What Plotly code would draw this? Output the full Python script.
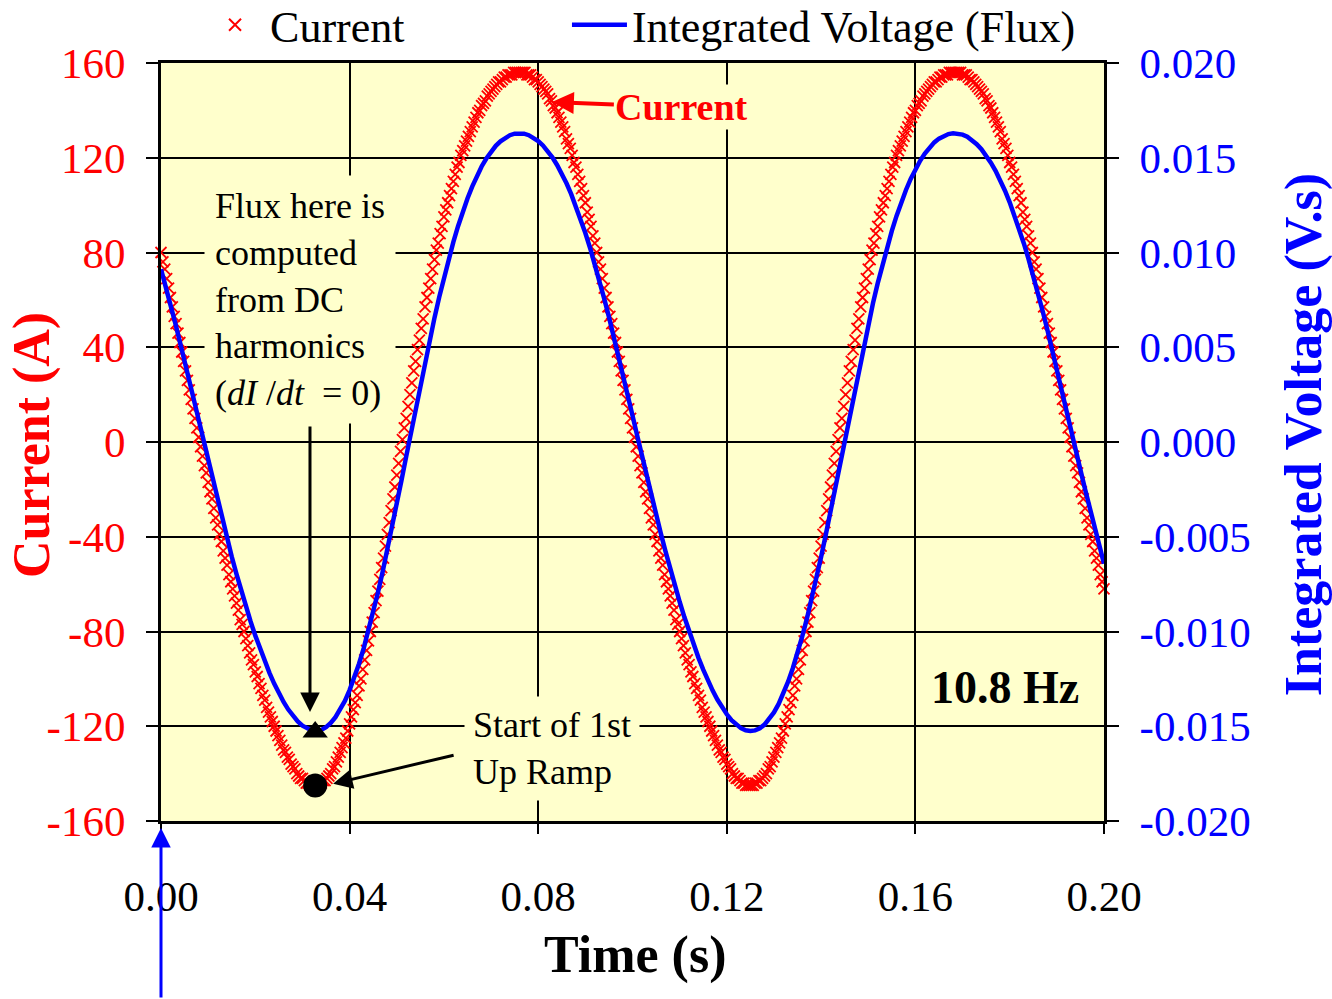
import numpy as np
import plotly.graph_objects as go

# ---- data -----------------------------------------------------------------
# Coil current (A), sampled every 0.4 ms (2500 Hz) from t = 0 to 0.2 s
current_a = [
    80, 76, 73, 69, 65, 61, 57, 53, 50, 46, 42, 38, 34, 30, 26, 22, 18, 14, 10, 6, 2, -2, -6, -10, -13,
    -17, -21, -24, -28, -32, -35, -39, -42, -46, -49, -52, -56, -59, -62, -65, -68, -71, -75, -77, -80, -83, -86, -89, -92, -94,
    -97, -99, -102, -104, -107, -109, -112, -114, -116, -118, -120, -122, -124, -126, -128, -130, -131, -133, -134, -136, -137, -138, -140, -141, -142,
    -142, -143, -144, -144, -145, -145, -145, -145, -145, -144, -144, -143, -143, -142, -141, -140, -138, -137, -135, -133, -131, -129, -127, -125, -122,
    -119, -116, -113, -110, -107, -103, -100, -96, -92, -88, -84, -80, -76, -72, -67, -63, -58, -53, -49, -44, -39, -34, -29, -24, -19,
    -14, -9, -4, 1, 6, 10, 15, 20, 25, 30, 34, 39, 43, 48, 52, 57, 61, 65, 69, 73, 77, 81, 84, 88, 91,
    95, 98, 101, 104, 107, 110, 113, 116, 118, 121, 123, 125, 127, 129, 131, 133, 135, 137, 139, 140, 142, 143, 144, 146, 147,
    148, 149, 150, 151, 152, 152, 153, 154, 154, 155, 155, 155, 156, 156, 156, 156, 156, 156, 156, 155, 155, 155, 154, 153, 153,
    152, 151, 150, 149, 148, 147, 145, 144, 142, 141, 139, 137, 135, 133, 131, 128, 126, 124, 121, 118, 116, 113, 110, 107, 104,
    101, 97, 94, 91, 87, 84,
    80, 76, 73, 69, 65, 61, 57, 53, 50, 46, 42, 38, 34, 30, 26, 22, 18, 14, 10, 6, 2, -2, -6, -10, -13,
    -17, -21, -24, -28, -32, -35, -39, -42, -46, -49, -52, -56, -59, -62, -65, -68, -71, -75, -77, -80, -83, -86, -89, -92, -94,
    -97, -99, -102, -104, -107, -109, -112, -114, -116, -118, -120, -122, -124, -126, -128, -130, -131, -133, -134, -136, -137, -138, -140, -141, -142,
    -142, -143, -144, -144, -145, -145, -145, -145, -145, -144, -144, -143, -143, -142, -141, -140, -138, -137, -135, -133, -131, -129, -127, -125, -122,
    -119, -116, -113, -110, -107, -103, -100, -96, -92, -88, -84, -80, -76, -72, -67, -63, -58, -53, -49, -44, -39, -34, -29, -24, -19,
    -14, -9, -4, 1, 6, 10, 15, 20, 25, 30, 34, 39, 43, 48, 52, 57, 61, 65, 69, 73, 77, 81, 84, 88, 91,
    95, 98, 101, 104, 107, 110, 113, 116, 118, 121, 123, 125, 127, 129, 131, 133, 135, 137, 139, 140, 142, 143, 144, 146, 147,
    148, 149, 150, 151, 152, 152, 153, 154, 154, 155, 155, 155, 156, 156, 156, 156, 156, 156, 156, 155, 155, 155, 154, 153, 153,
    152, 151, 150, 149, 148, 147, 145, 144, 142, 141, 139, 137, 135, 133, 131, 128, 126, 124, 121, 118, 116, 113, 110, 107, 104,
    101, 97, 94, 91, 87, 84,
    80, 76, 73, 69, 65, 61, 57, 53, 50, 46, 42, 38, 34, 30, 26, 22, 18, 14, 10, 6, 2, -2, -6, -10, -13,
    -17, -21, -24, -28, -32, -35, -39, -42, -46, -49, -52, -56, -59, -62,
]
CURRENT_RATE_HZ = 2500

# Integrated coil voltage (V.s), sampled every 1 ms from t = 0 to 0.2 s
flux_vs = [
    0.00912, 0.00822, 0.00728, 0.00630, 0.00529, 0.00426, 0.00321, 0.00215, 0.00108, 0.00001,
    -0.00105, -0.00209, -0.00312, -0.00413, -0.00510, -0.00605, -0.00696, -0.00784, -0.00867, -0.00947,
    -0.01022, -0.01092, -0.01158, -0.01218, -0.01275, -0.01326, -0.01372, -0.01412, -0.01446, -0.01475,
    -0.01497, -0.01513, -0.01522, -0.01524, -0.01519, -0.01505, -0.01483, -0.01452, -0.01413, -0.01366,
    -0.01309, -0.01244, -0.01170, -0.01088, -0.00997, -0.00900, -0.00796, -0.00686, -0.00571, -0.00451,
    -0.00329, -0.00203, -0.00077, 0.00050, 0.00177, 0.00301, 0.00423, 0.00541, 0.00655, 0.00764,
    0.00867, 0.00964, 0.01055, 0.01139, 0.01216, 0.01285, 0.01348, 0.01404, 0.01454, 0.01496,
    0.01533, 0.01563, 0.01587, 0.01606, 0.01619, 0.01627, 0.01629, 0.01627, 0.01619, 0.01606,
    0.01588, 0.01565, 0.01536, 0.01502, 0.01462, 0.01416, 0.01365, 0.01308, 0.01245, 0.01177,
    0.01103, 0.01024, 0.00939, 0.00850, 0.00757, 0.00660, 0.00560, 0.00458, 0.00353, 0.00247,
    0.00140, 0.00033, -0.00073, -0.00178, -0.00282, -0.00383, -0.00482, -0.00577, -0.00670, -0.00758,
    -0.00843, -0.00924, -0.01000, -0.01072, -0.01139, -0.01201, -0.01259, -0.01312, -0.01359, -0.01401,
    -0.01437, -0.01468, -0.01492, -0.01510, -0.01521, -0.01525, -0.01522, -0.01511, -0.01491, -0.01463,
    -0.01427, -0.01382, -0.01328, -0.01265, -0.01194, -0.01114, -0.01026, -0.00931, -0.00829, -0.00720,
    -0.00607, -0.00488, -0.00366, -0.00241, -0.00115, 0.00012, 0.00139, 0.00264, 0.00387, 0.00506,
    0.00621, 0.00732, 0.00837, 0.00936, 0.01028, 0.01114, 0.01193, 0.01265, 0.01330, 0.01388,
    0.01440, 0.01484, 0.01522, 0.01555, 0.01581, 0.01601, 0.01616, 0.01625, 0.01629, 0.01628,
    0.01622, 0.01611, 0.01594, 0.01572, 0.01545, 0.01513, 0.01474, 0.01431, 0.01381, 0.01326,
    0.01265, 0.01198, 0.01126, 0.01048, 0.00965, 0.00877, 0.00786, 0.00690, 0.00591, 0.00489,
    0.00385, 0.00279, 0.00172, 0.00065, -0.00041, -0.00147, -0.00251, -0.00353, -0.00452, -0.00549,
    -0.00642,
]
FLUX_RATE_HZ = 1000

# Start of the first up ramp (current minimum) and the flux at that instant
ramp_start_t = 0.0327
ramp_start_current = -145
ramp_start_flux = -0.0153

time_ticks = [0.00, 0.04, 0.08, 0.12, 0.16, 0.20]
time_labels = ["0.00", "0.04", "0.08", "0.12", "0.16", "0.20"]
current_ticks = [-160, -120, -80, -40, 0, 40, 80, 120, 160]
current_labels = ["-160", "-120", "-80", "-40", "0", "40", "80", "120", "160"]
flux_ticks = [-0.020, -0.015, -0.010, -0.005, 0.0, 0.005, 0.010, 0.015, 0.020]
flux_labels = ["-0.020", "-0.015", "-0.010", "-0.005", "0.000", "0.005", "0.010", "0.015", "0.020"]

# ---- figure ---------------------------------------------------------------
SERIF = "Liberation Serif"
RED = "#FF0000"
BLUE = "#0000FF"
PANEL = "#FFFFCC"
TICK_SIZE = 43
TITLE_SIZE = 52

t_current = np.arange(len(current_a)) / CURRENT_RATE_HZ
t_flux = np.arange(len(flux_vs)) / FLUX_RATE_HZ

fig = go.Figure()
fig.add_trace(go.Scatter(
    x=t_current, y=current_a, mode="markers", name="Current", legend="legend",
    marker=dict(symbol="x-thin", size=11, color=RED, line=dict(width=1.8, color=RED)),
    cliponaxis=False,
))
fig.add_trace(go.Scatter(
    x=[ramp_start_t], y=[ramp_start_current], mode="markers", showlegend=False,
    marker=dict(symbol="circle", size=24, color="black"),
))
fig.add_trace(go.Scatter(
    x=t_flux, y=flux_vs, mode="lines", name="Integrated Voltage (Flux)", legend="legend2",
    line=dict(color=BLUE, width=4.5), yaxis="y2", cliponaxis=False,
))
fig.add_trace(go.Scatter(
    x=[ramp_start_t], y=[ramp_start_flux], mode="markers", showlegend=False,
    marker=dict(symbol="triangle-up", size=22, color="black"), yaxis="y2",
))

axis_common = dict(
    showline=True, linecolor="black", linewidth=3, zeroline=False,
    ticks="outside", tickcolor="black", tickwidth=2,
)
legend_common = dict(
    orientation="h", xanchor="left", y=1.05, yanchor="middle",
    font=dict(family=SERIF, size=44, color="black"), bgcolor="rgba(0,0,0,0)",
)

fig.update_layout(
    width=1332, height=999,
    margin=dict(l=161, r=228, t=63, b=178, autoexpand=False),
    paper_bgcolor="white", plot_bgcolor=PANEL,
    font=dict(family=SERIF, color="black"),
    xaxis=dict(
        range=[0, 0.2], tickvals=time_ticks, ticktext=time_labels,
        ticklen=10, mirror=True, showgrid=True, gridcolor="black", gridwidth=2,
        tickfont=dict(family=SERIF, size=TICK_SIZE, color="black"), ticklabelstandoff=25,
        **axis_common,
    ),
    yaxis=dict(
        range=[-160, 160], tickvals=current_ticks, ticktext=current_labels,
        ticklen=12, showgrid=True, gridcolor="black", gridwidth=2,
        tickfont=dict(family=SERIF, size=TICK_SIZE, color=RED), ticklabelstandoff=12,
        **axis_common,
    ),
    yaxis2=dict(
        range=[-0.02, 0.02], overlaying="y", side="right",
        tickvals=flux_ticks, ticktext=flux_labels, ticklen=12, showgrid=False,
        tickfont=dict(family=SERIF, size=TICK_SIZE, color=BLUE), ticklabelstandoff=12,
        **axis_common,
    ),
    legend=dict(x=0.0414, itemwidth=60, itemsizing="constant", **legend_common),
    legend2=dict(x=0.4305, itemwidth=55, **legend_common),
    showlegend=True,
)

annotations = [
    # axis titles
    dict(text="<b>Current (A)</b>", xref="paper", yref="paper", x=-0.1368, y=0.496,
         xanchor="center", yanchor="middle", textangle=-90, showarrow=False,
         font=dict(family=SERIF, size=TITLE_SIZE, color=RED)),
    dict(text="<b>Time (s)</b>", xref="paper", yref="paper", x=0.5027, y=-0.1768,
         xanchor="center", yanchor="middle", showarrow=False,
         font=dict(family=SERIF, size=TITLE_SIZE, color="black")),
    dict(text="<b>Integrated Voltage (V.s)</b>", xref="paper", yref="paper", x=1.2121, y=0.509,
         xanchor="center", yanchor="middle", textangle=-90, showarrow=False,
         font=dict(family=SERIF, size=TITLE_SIZE, color=BLUE)),
    # explanatory notes
    dict(text="Flux here is<br>computed<br>from DC<br>harmonics<br>(<i>dI</i> /<i>dt</i>  = 0)",
         xref="x", yref="y", x=0.0091, y=112.7, xanchor="left", yanchor="top", align="left",
         showarrow=False, bgcolor=PANEL, borderpad=10,
         font=dict(family=SERIF, size=36, color="black")),
    dict(text="", xref="x", yref="y", x=0.0316, y=-114, ax=0, ay=-287,
         showarrow=True, arrowhead=2, arrowsize=1.3, arrowwidth=3, arrowcolor="black"),
    dict(text="Start of 1st<br>Up Ramp", xref="x", yref="y", x=0.0643, y=-129.6,
         xanchor="left", yanchor="middle", align="left", showarrow=False,
         bgcolor=PANEL, borderpad=8, font=dict(family=SERIF, size=36, color="black")),
    dict(text="", xref="x", yref="y", x=0.0365, y=-144.3, ax=122, ay=-29,
         showarrow=True, arrowhead=2, arrowsize=1.3, arrowwidth=3, arrowcolor="black"),
    dict(text="<b>Current</b>", xref="x", yref="y", x=0.0829, y=143.5, ax=130, ay=5,
         showarrow=True, arrowhead=2, arrowsize=1.1, arrowwidth=4, arrowcolor=RED,
         bgcolor=PANEL, font=dict(family=SERIF, size=38, color=RED)),
    dict(text="<b>10.8 Hz</b>", xref="x", yref="y", x=0.179, y=-103.8,
         xanchor="center", yanchor="middle", showarrow=False,
         font=dict(family=SERIF, size=46, color="black")),
    # marker for t = 0 below the time axis
    dict(text="", xref="x", yref="paper", x=0.0, y=-0.0092, ax=0, ay=171,
         showarrow=True, arrowhead=2, arrowsize=1.3, arrowwidth=3, arrowcolor=BLUE),
]
fig.update_layout(annotations=annotations)

fig.write_html("out.html")
